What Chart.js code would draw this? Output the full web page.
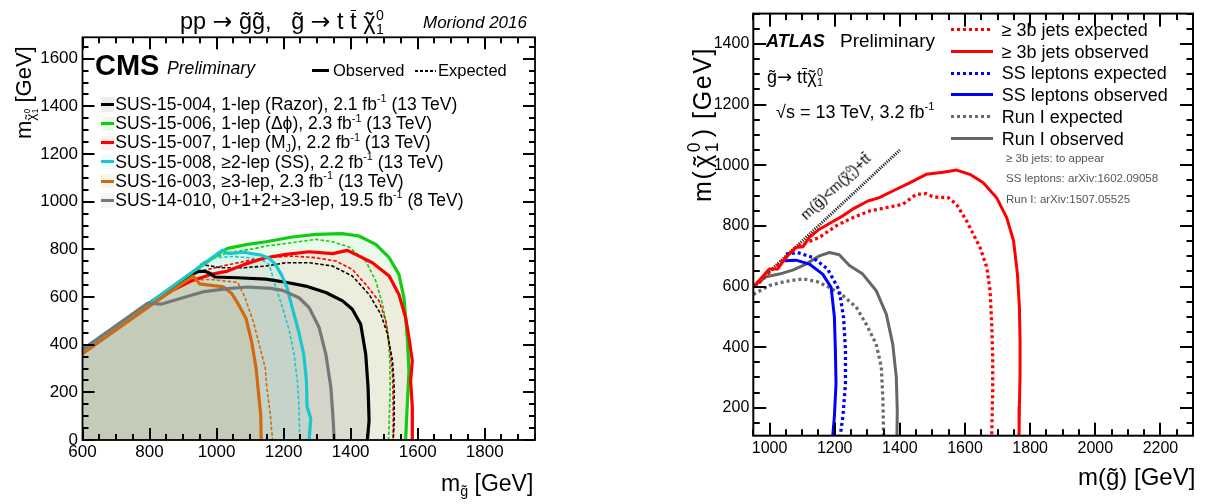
<!DOCTYPE html>
<html><head><meta charset="utf-8">
<script src="https://cdn.jsdelivr.net/npm/chart.js@4.4.1/dist/chart.umd.min.js"></script>
<style>
html,body{margin:0;padding:0;background:#fff}
body{width:1205px;height:504px;position:relative;overflow:hidden;font-family:"Liberation Sans",Arial,Helvetica,sans-serif;color:#000}
canvas{position:absolute;top:0}
.t{position:absolute;white-space:nowrap;line-height:1}
.acc{position:relative;display:inline-block}
.mk{position:absolute;left:0;right:0;top:0;text-align:center}
.bar{position:absolute;left:0.02em;right:0.02em;top:0.03em;border-top:0.07em solid #000}
.ss{display:inline-block;vertical-align:-0.35em;font-size:0.6em;line-height:1;margin-left:0.04em}
.ss b{display:block;font-weight:normal}
.sp{font-size:0.62em;position:relative;top:-0.7em}
.sb{font-size:0.62em;position:relative;top:0.3em}
.rot{transform-origin:0 0;transform:rotate(-90deg)}
.box{position:absolute}
.ar{font-family:"DejaVu Sans",sans-serif}
</style></head><body>
<canvas id="cL" width="560" height="504" style="left:0px"></canvas>
<canvas id="cR" width="605" height="504" style="left:600px"></canvas>

<!-- left panel texts -->
<div class="t" style="left:180px;top:7.5px;font-size:23.5px">pp <span class="ar">→</span> <span class="acc">g<span class="mk">˜</span></span><span class="acc">g<span class="mk">˜</span></span>,&nbsp;&nbsp; <span class="acc">g<span class="mk">˜</span></span> <span class="ar">→</span> t <span class="acc">t<span class="bar"></span></span> <span class="acc">χ<span class="mk">˜</span></span><span class="ss"><b>0</b><b>1</b></span></div>
<div class="t" style="left:423px;top:13.9px;font-size:17px;font-style:italic">Moriond 2016</div>
<div class="t" style="left:95px;top:50.5px;font-size:29px;font-weight:bold">CMS</div>
<div class="t" style="left:167px;top:59.6px;font-size:17.6px;font-style:italic">Preliminary</div>
<div class="box" style="left:312px;top:69px;width:17px;height:3px;background:#000"></div>
<div class="t" style="left:333px;top:62px;font-size:16.5px">Observed</div>
<div class="box" style="left:415px;top:70px;width:21px;height:1.5px;background:repeating-linear-gradient(90deg,#000 0 3px,transparent 3px 5px)"></div>
<div class="t" style="left:438px;top:62px;font-size:16.5px">Expected</div>
<div id="legL"></div>
<div class="t rot" style="left:13px;top:139px;font-size:22px">m<span style="font-size:.62em;position:relative;top:.32em"><span class="acc">χ<span class="mk">˜</span></span><span class="ss"><b>0</b><b>1</b></span></span> [GeV]</div>
<div class="t" style="left:441px;top:472px;font-size:23px">m<span class="sb" style="top:.35em"><span class="acc">g<span class="mk">˜</span></span></span> [GeV]</div>

<!-- right panel texts -->
<div class="t" style="left:766px;top:31.5px;font-size:18px;font-weight:bold;font-style:italic">ATLAS</div>
<div class="t" style="left:840px;top:30.6px;font-size:19px">Preliminary</div>
<div class="t" style="left:767px;top:66.5px;font-size:18px"><span class="acc">g<span class="mk">˜</span></span><span class="ar">→</span> t<span class="acc">t<span class="bar"></span></span><span class="acc">χ<span class="mk">˜</span></span><span class="ss"><b>0</b><b>1</b></span></div>
<div class="t" style="left:776px;top:103px;font-size:18px">√s = 13 TeV, 3.2 fb<span class="sp">-1</span></div>
<div id="legR"></div>
<div class="t" style="left:1006px;top:152.5px;font-size:11.5px;color:#555">≥ 3b jets: to appear</div>
<div class="t" style="left:1006px;top:173px;font-size:11.5px;color:#555">SS leptons: arXiv:1602.09058</div>
<div class="t" style="left:1006px;top:193.5px;font-size:11.5px;color:#555">Run I: arXiv:1507.05525</div>
<div class="t" style="left:836px;top:187px;font-size:14.5px;transform:translate(-50%,-50%) rotate(-43deg)">m(<span class="acc">g<span class="mk">˜</span></span>)&lt;m(<span class="acc">χ<span class="mk">˜</span></span><span class="ss"><b>0</b><b>1</b></span>)+t<span class="acc">t<span class="bar"></span></span></div>
<div class="t rot" style="left:686px;top:202px;font-size:25px;letter-spacing:1.6px">m(<span class="acc" style="margin-left:.08em">χ<span class="mk">˜</span></span><span class="ss" style="font-size:.7em;margin-right:.2em"><b>0</b><b>1</b></span>)&nbsp;[GeV]</div>
<div class="t" style="left:1078px;top:464.7px;font-size:24px">m(<span class="acc">g<span class="mk">˜</span></span>) [GeV]</div>

<script>
// ================= DATA =================
// Left panel (CMS): contours as [m_gluino, m_LSP] in GeV
const sus15004Obs = [[600,375],[800,575],[930,700],[950,708],[965,708],[980,700],[995,684],[1063,681],[1147,675],[1207,662],[1266,646],[1326,619],[1376,584],[1405,549],[1430,486],[1445,360],[1452,221],[1455,81],[1450,0]];
const sus15004Exp = [[940,718],[953,737],[1013,723],[1082,723],[1147,730],[1207,744],[1276,744],[1346,730],[1405,688],[1455,611],[1490,528],[1510,444],[1525,332],[1530,221],[1530,81],[1527,0]];
const sus15006Obs = [[600,375],[800,575],[1020,795],[1033,804],[1093,821],[1147,832],[1226,852],[1296,863],[1375,866],[1425,856],[1475,821],[1515,765],[1544,695],[1559,597],[1569,430],[1574,290],[1569,151],[1564,0]];
const sus15006Exp = [[958,745],[1033,786],[1112,803],[1147,814],[1226,828],[1296,842],[1346,832],[1395,810],[1445,751],[1475,667],[1495,570],[1510,458],[1517,332],[1518,221],[1515,81],[1513,0]];
const sus15007Obs = [[600,375],[800,575],[864,625],[924,667],[983,695],[1033,709],[1083,737],[1122,754],[1147,765],[1207,779],[1276,790],[1346,782],[1390,796],[1415,779],[1465,744],[1515,688],[1544,611],[1564,514],[1574,430],[1584,332],[1579,248],[1584,137],[1584,0]];
const sus15007Exp = [[914,684],[963,712],[1033,735],[1102,755],[1147,765],[1226,772],[1296,765],[1356,751],[1405,716],[1445,653],[1485,583],[1505,500],[1517,388],[1525,276],[1527,137],[1527,0]];
const sus15008Obs = [[600,375],[800,575],[1018,797],[1035,782],[1080,788],[1133,776],[1156,763],[1175,738],[1195,690],[1210,640],[1225,560],[1245,455],[1260,360],[1268,250],[1270,140],[1281,90],[1276,0]];
const sus15008Exp = [[990,765],[1050,770],[1100,765],[1140,752],[1157,737],[1177,639],[1197,556],[1217,458],[1231,360],[1241,249],[1246,137],[1248,0]];
const sus16003Obs = [[600,362],[800,562],[930,688],[950,655],[990,648],[1020,643],[1045,615],[1065,570],[1088,510],[1105,410],[1118,300],[1125,200],[1132,100],[1133,0]];
const sus16003Exp = [[935,672],[983,674],[1032,666],[1063,662],[1085,597],[1110,495],[1130,385],[1145,305],[1150,220],[1160,110],[1167,0]];
const sus14010Obs = [[600,380],[795,575],[834,570],[894,595],[963,623],[1033,635],[1093,642],[1162,636],[1197,628],[1246,597],[1276,556],[1306,472],[1326,360],[1341,221],[1348,81],[1351,0]];
const leftXTicks = [600,800,1000,1200,1400,1600,1800];
const leftYTicks = [0,200,400,600,800,1000,1200,1400,1600];

// Right panel (ATLAS)
const b3jExp = [[955,598],[1000,648],[1040,685],[1081,729],[1102,740],[1153,762],[1204,800],[1255,827],[1307,849],[1358,860],[1409,871],[1450,904],[1481,906],[1503,895],[1549,893],[1574,871],[1605,816],[1646,729],[1667,663],[1677,586],[1682,477],[1685,367],[1685,258],[1682,108]];
const b3jObs = [[950,598],[999,658],[1025,658],[1050,696],[1081,729],[1102,731],[1122,762],[1153,789],[1189,811],[1225,833],[1255,855],[1302,882],[1337,893],[1378,915],[1430,942],[1481,970],[1533,977],[1574,984],[1615,970],[1656,942],[1697,893],[1728,827],[1749,751],[1761,641],[1767,532],[1769,422],[1769,313],[1767,203],[1766,108]];
const ssExp = [[1050,707],[1086,712],[1132,696],[1178,658],[1214,587],[1227,499],[1233,390],[1233,280],[1225,171],[1217,108]];
const ssObs = [[1045,685],[1081,687],[1122,674],[1163,641],[1189,597],[1199,499],[1202,390],[1204,280],[1199,171],[1194,108]];
const run1Exp = [[950,574],[999,603],[1050,617],[1102,625],[1143,617],[1184,597],[1225,570],[1266,532],[1296,477],[1327,411],[1343,335],[1348,225],[1350,108]];
const run1Obs = [[950,600],[989,632],[1030,641],[1071,654],[1112,674],[1153,701],[1184,712],[1214,705],[1245,669],[1286,641],[1327,587],[1358,510],[1378,411],[1389,302],[1392,192],[1391,108]];
const kinLimit = [[950,600],[1400,1050]];
const rightXTicks = [1000,1200,1400,1600,1800,2000,2200];
const rightYTicks = [200,400,600,800,1000,1200,1400];

// ================= LEGEND TEXT =================
const leftLegend = [
  ['#000','rgba(0,0,0,0.07)','SUS-15-004, 1-lep (Razor), 2.1 fb<span class="sp">-1</span> (13 TeV)'],
  ['#11cc11','rgba(0,200,0,0.08)','SUS-15-006, 1-lep (Δϕ), 2.3 fb<span class="sp">-1</span> (13 TeV)'],
  ['#ff0000','rgba(255,0,0,0.06)','SUS-15-007, 1-lep (M<span class="sb">J</span>), 2.2 fb<span class="sp">-1</span> (13 TeV)'],
  ['#18c8d0','rgba(0,200,200,0.07)','SUS-15-008, ≥2-lep (SS), 2.2 fb<span class="sp">-1</span> (13 TeV)'],
  ['#d06a10','rgba(210,110,10,0.08)','SUS-16-003, ≥3-lep, 2.3 fb<span class="sp">-1</span> (13 TeV)'],
  ['#777777','rgba(80,80,80,0.06)','SUS-14-010, 0+1+2+≥3-lep, 19.5 fb<span class="sp">-1</span> (8 TeV)']
];
const rightLegend = [
  ['#ff0000',true,'≥ 3b jets expected'],
  ['#ff0000',false,'≥ 3b jets observed'],
  ['#0000ff',true,'SS leptons expected'],
  ['#0000ff',false,'SS leptons observed'],
  ['#6a6a6a',true,'Run I expected'],
  ['#666666',false,'Run I observed']
];

(function(){
  let h='';
  leftLegend.forEach((e,i)=>{
    const b=110.7+19.2*i;
    h+=`<div class="box" style="left:101px;top:${b-13.4}px;width:12.7px;height:14.4px;background:${e[1]}"></div>`;
    h+=`<div class="box" style="left:101px;top:${b-7.9}px;width:12.7px;height:3px;background:${e[0]}"></div>`;
    h+=`<div class="t" style="left:115.3px;top:${b-14.8}px;font-size:17.5px">${e[2]}</div>`;
  });
  document.getElementById('legL').innerHTML=h;
  h='';
  rightLegend.forEach((e,i)=>{
    const b=36.2+21.7*i;
    const bg=e[1]?`repeating-linear-gradient(90deg,${e[0]} 0 3px,transparent 3px 6px)`:e[0];
    h+=`<div class="box" style="left:951px;top:${b-8}px;width:42px;height:3.2px;background:${bg}"></div>`;
    h+=`<div class="t" style="left:1001.7px;top:${b-15.2}px;font-size:18px">${e[2]}</div>`;
  });
  document.getElementById('legR').innerHTML=h;
})();

// ================= CHARTS =================
const FONT = "'Liberation Sans', Arial, Helvetica, sans-serif";
Chart.defaults.font.family = FONT;

function ser(data,color,w,dash,extra){
  return Object.assign({data:data.map(p=>({x:p[0],y:p[1]})),borderColor:color,borderWidth:w,borderDash:dash||[],
    pointRadius:0,pointHoverRadius:0,fill:false,tension:0,borderCapStyle:'butt',borderJoinStyle:'round'},extra||{});
}
function axis(min,max,ticksArr,size,pad,fit){
  return {type:'linear',min:min,max:max,grid:{display:false,drawTicks:false},border:{display:false},
    ticks:{color:'#000',font:{size:size,family:FONT},padding:pad,autoSkip:false,maxRotation:0,callback:v=>String(v)},
    afterBuildTicks:s=>{s.ticks=ticksArr.map(v=>({value:v}));},afterFit:fit};
}
const areaFill = {
  id:'areaFill',
  beforeDatasetsDraw(chart){
    const ds=chart.data.datasets, ctx=chart.ctx, a=chart.chartArea;
    const y0=chart.scales.y.getPixelForValue(0);
    const idx=ds.map((d,i)=>i).filter(i=>ds[i].areaColor).sort((p,q)=>ds[p].areaRank-ds[q].areaRank);
    ctx.save(); ctx.beginPath(); ctx.rect(a.left,a.top,a.right-a.left,a.bottom-a.top); ctx.clip();
    for(const i of idx){
      const pts=chart.getDatasetMeta(i).data;
      ctx.beginPath();
      pts.forEach((p,k)=>k?ctx.lineTo(p.x,p.y):ctx.moveTo(p.x,p.y));
      ctx.lineTo(pts[pts.length-1].x,y0); ctx.lineTo(pts[0].x,y0); ctx.closePath();
      ctx.fillStyle=ds[i].areaColor; ctx.fill();
    }
    ctx.restore();
  }
};
function makeFrame(o){
  return {
    id:'rootFrame'+o.tag,
    afterDraw(chart){
      const ctx=chart.ctx, a=chart.chartArea, xs=chart.scales.x, ys=chart.scales.y;
      ctx.save();
      ctx.setLineDash([]);
      ctx.fillStyle='#000';
      const w=o.tickW;
      const isMaj=v=>Math.abs(v/o.major-Math.round(v/o.major))<1e-6;
      for(let v=Math.ceil(xs.min/o.minor)*o.minor; v<=xs.max+1e-6; v+=o.minor){
        const L=isMaj(v)?o.majLen:o.minLen, p=Math.round(xs.getPixelForValue(v));
        ctx.fillRect(p-w/2,a.bottom-L,w,L);
        ctx.fillRect(p-w/2,a.top,w,L);
      }
      for(let v=Math.ceil(ys.min/o.minor)*o.minor; v<=ys.max+1e-6; v+=o.minor){
        const L=isMaj(v)?o.majLen:o.minLen, p=Math.round(ys.getPixelForValue(v));
        ctx.fillRect(a.left,p-w/2,L,w);
        ctx.fillRect(a.right-L,p-w/2,L,w);
      }
      ctx.strokeStyle='#000';
      ctx.lineWidth=o.frameW; ctx.strokeRect(a.left,a.top,a.right-a.left,a.bottom-a.top);
      ctx.restore();
    }
  };
}

new Chart(document.getElementById('cL'),{
  type:'line',
  data:{datasets:[
    ser(sus14010Obs,'#777777',3.2,null,{areaColor:leftLegend[5][1],areaRank:3}),
    ser(sus16003Obs,'#d06a10',3.2,null,{areaColor:leftLegend[4][1],areaRank:5}),
    ser(sus15008Obs,'#18c8d0',3.2,null,{areaColor:leftLegend[3][1],areaRank:4}),
    ser(sus15004Obs,'#000000',3.2,null,{areaColor:leftLegend[0][1],areaRank:2}),
    ser(sus15007Obs,'#ff0000',3.2,null,{areaColor:leftLegend[2][1],areaRank:1}),
    ser(sus15006Obs,'#11cc11',3.2,null,{areaColor:leftLegend[1][1],areaRank:0}),
    ser(sus16003Exp,'#d06a10',1.6,[3.5,2]),
    ser(sus15008Exp,'#18c8d0',1.6,[3.5,2]),
    ser(sus15004Exp,'#000000',1.6,[3.5,2]),
    ser(sus15007Exp,'#ff0000',1.6,[3.5,2]),
    ser(sus15006Exp,'#11cc11',1.6,[3.5,2])
  ]},
  options:{
    responsive:false,animation:false,events:[],
    layout:{autoPadding:false,padding:{left:0,right:25,top:37.3,bottom:0}},
    plugins:{legend:{display:false},tooltip:{enabled:false}},
    scales:{
      x:axis(600,1950,leftXTicks,17,2,s=>{s.height=64;}),
      y:axis(0,1690,leftYTicks,17,4.5,s=>{s.width=82.5;})
    }
  },
  plugins:[areaFill,makeFrame({tag:'L',major:200,minor:50,majLen:12,minLen:6,tickW:2,frameW:1.8})]
});

new Chart(document.getElementById('cR'),{
  type:'line',
  data:{datasets:[
    ser(b3jObs,'#ff0000',3,null),
    ser(b3jExp,'#ff0000',3.3,[3,3]),
    ser(ssObs,'#0000ff',3,null),
    ser(ssExp,'#0000ff',3.3,[3,3]),
    ser(run1Obs,'#666666',3,null),
    ser(run1Exp,'#6a6a6a',3.3,[3,3]),
    ser(kinLimit,'#222222',3,[1.2,1.2])
  ]},
  options:{
    responsive:false,animation:false,events:[],
    layout:{autoPadding:false,padding:{left:0,right:12,top:12.3,bottom:0}},
    plugins:{legend:{display:false},tooltip:{enabled:false}},
    scales:{
      x:axis(950,2300,rightXTicks,16,3,s=>{s.height=68.3;}),
      y:axis(108,1500,rightYTicks,16,4,s=>{s.width=153.3;})
    }
  },
  plugins:[makeFrame({tag:'R',major:200,minor:50,majLen:13,minLen:6.5,tickW:2,frameW:2})]
});
</script>
</body></html>
